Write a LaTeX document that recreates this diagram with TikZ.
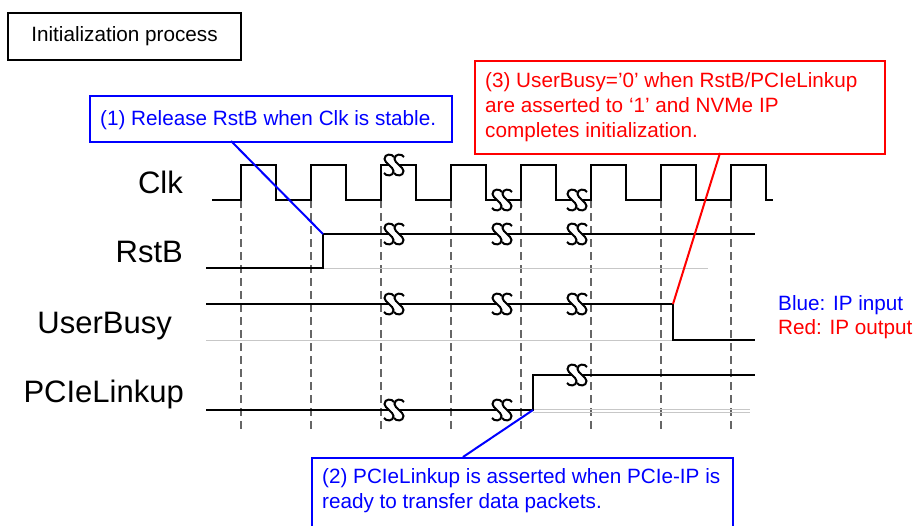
\documentclass[tikz,border=0pt]{standalone}
\usepackage{fontspec}
\setmainfont{Liberation Sans}
\begin{document}
\begin{tikzpicture}[x=1pt,y=-1pt,
  sig/.style={line width=2pt,line join=miter},
  gridline/.style={line width=1.5pt,black!60,dash pattern=on 8pt off 5pt},
  ghost/.style={line width=1pt,black!22},
  brk/.style={line width=2pt},
  bluelink/.style={line width=2pt,blue},
  redlink/.style={line width=2pt,red},
  frame/.style={draw,line width=2pt,anchor=north west,inner sep=0pt},
  small/.style={inner sep=0pt,font=\fontsize{20.7}{25}\selectfont},
  big/.style={inner sep=0pt,anchor=base east,font=\fontsize{31}{36}\selectfont},
  brkmark/.pic={
    % blank the trace between the two strokes
    \fill[white] (5,-8) .. controls (3,-11.5) and (-4.5,-11.5) .. (-4.5,-6)
          .. controls (-4.5,-2) and (4.5,2) .. (4.5,6)
          .. controls (4.5,11.5) and (-3,11.5) .. (-5,8)
          -- (5,8) .. controls (7,11.5) and (14.5,11.5) .. (14.5,6)
          .. controls (14.5,2) and (5.5,-2) .. (5.5,-6)
          .. controls (5.5,-11.5) and (13,-11.5) .. (15,-8) -- cycle;
    \foreach \dx in {0,10}
      \draw[brk,shift={(\dx,0)}] (5,-8) .. controls (3,-11.5) and (-4.5,-11.5) .. (-4.5,-6)
          .. controls (-4.5,-2) and (4.5,2) .. (4.5,6)
          .. controls (4.5,11.5) and (-3,11.5) .. (-5,8);
  }]
\useasboundingbox (0,0) rectangle (913,525);
\clip (0,0) rectangle (913,525);

% title
\node[draw,line width=2pt,minimum width=233pt,minimum height=47pt,inner sep=0pt,
      font=\fontsize{20.7}{25}\selectfont] (title) at (124.5,36.5) {Initialization process};

% signal names
\node[big] (lclk) at (183,193) {Clk};
\node[big] (lrst) at (183,262) {RstB};
\node[big] (lbusy) at (172,333) {UserBusy};
\node[big] (llink) at (184,402) {PCIeLinkup};

% clock edge markers
\foreach \x in {241,311,381,451,521,591,661,731}
  \draw[gridline] (\x,200) -- (\x,432);

% faint low-level traces
\draw[ghost] (323,268) -- (708,268);
\draw[ghost] (206,340) -- (673,340);
\draw[ghost] (533,409.5) -- (750,409.5);
\draw[ghost] (533,412) -- (750,412);

% Clk
\draw[sig] (212,200) -- (241,200) -- (241,165) -- (276,165) -- (276,200)
  -- (311,200) -- (311,165) -- (346,165) -- (346,200)
  -- (381,200) -- (381,165) -- (416,165) -- (416,200)
  -- (451,200) -- (451,165) -- (486,165) -- (486,200)
  -- (521,200) -- (521,165) -- (556,165) -- (556,200)
  -- (591,200) -- (591,165) -- (626,165) -- (626,200)
  -- (661,200) -- (661,165) -- (696,165) -- (696,200)
  -- (731,200) -- (731,165) -- (766,165) -- (766,200) -- (773,200);

% RstB
\coordinate (rstrise) at (323,234);
\draw[sig] (206,268) -- (323,268) -- (rstrise) -- (755,234);

% UserBusy
\coordinate (busyfall) at (673,304);
\draw[sig] (206,304) -- (busyfall) -- (673,340) -- (755,340);

% PCIeLinkup
\coordinate (linkrise) at (533,410);
\draw[sig] (206,410) -- (linkrise) -- (533,375) -- (755,375);

% time breaks
\foreach \p in {(389,165),(497,200),(572,200),
                (389,234),(497,234),(572,234),
                (389,304),(497,304),(572,304),
                (389,410),(497,410),(572,375)}
  \pic at \p {brkmark};

% callout (1)
\node[frame,draw=blue,minimum width=362pt,minimum height=46pt] (c1) at (89,95) {};
\node[small,anchor=base west,text=blue] (c1t) at (100,125) {(1) Release RstB when Clk is stable.};
\coordinate (c1tail) at (231,141);
\draw[bluelink] (c1tail) -- (rstrise);

% callout (2)
\node[frame,draw=blue,minimum width=421pt,minimum height=90pt] (c2) at (311,457) {};
\node[small,anchor=base west,text=blue] (c2a) at (322,483) {(2) PCIeLinkup is asserted when PCIe-IP is};
\node[small,anchor=base west,text=blue] (c2b) at (322,508) {ready to transfer data packets.};
\coordinate (c2tail) at (463,457);
\draw[bluelink] (c2tail) -- (linkrise);

% callout (3)
\node[frame,draw=red,minimum width=410pt,minimum height=93pt] (c3) at (474,60) {};
\node[small,anchor=base west,text=red] (c3a) at (485,87) {(3) UserBusy='0' when RstB/PCIeLinkup};
\node[small,anchor=base west,text=red] (c3b) at (485,112) {are asserted to `1' and NVMe IP};
\node[small,anchor=base west,text=red] (c3c) at (485,137) {completes initialization.};
\coordinate (c3tail) at (720,153);
\draw[redlink] (c3tail) -- (busyfall);

% legend
\node[small,anchor=base west,text=blue] (legin) at (778,310) {Blue: IP input};
\node[small,anchor=base west,text=red] (legout) at (778,334) {Red: IP output};
\end{tikzpicture}
\end{document}
